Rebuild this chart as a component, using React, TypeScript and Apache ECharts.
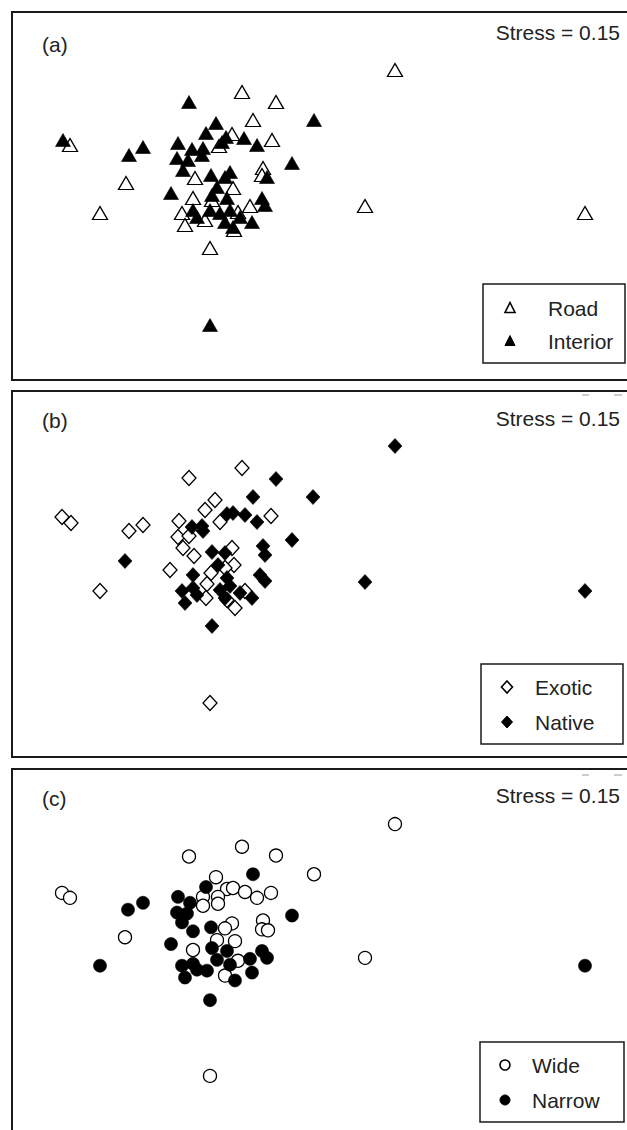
import React, { useEffect, useRef } from "react";
import * as echarts from "echarts";

type P = [number, number];

// NMDS site scores (axis 1, axis 2)
const roadSites: P[] = [
  [-1.40, 0.35], [-1.10, -0.33], [-0.84, -0.03], [0.32, 0.88], [0.66, 0.78], [0.43, 0.60],
  [0.22, 0.46], [0.62, 0.40], [0.09, 0.34], [0.53, 0.12], [0.52, 0.05], [-0.15, 0.02],
  [-0.17, -0.18], [0.23, -0.08], [0.40, -0.26], [0.02, -0.20], [-0.28, -0.33], [-0.25, -0.45],
  [-0.05, -0.40], [0.24, -0.50], [0.28, -0.32], [0.00, -0.68], [1.85, 1.10], [1.55, -0.26],
  [3.75, -0.33],
];
const interiorSites: P[] = [
  [-1.47, 0.40], [-0.81, 0.25], [-0.67, 0.33], [-0.21, 0.78], [1.04, 0.60], [0.06, 0.57],
  [-0.04, 0.47], [0.16, 0.43], [0.34, 0.42], [0.47, 0.35], [-0.32, 0.37], [-0.18, 0.31],
  [-0.07, 0.32], [0.12, 0.38], [-0.33, 0.22], [-0.22, 0.20], [-0.27, 0.10], [-0.08, 0.25],
  [0.82, 0.17], [0.57, 0.03], [0.01, 0.05], [0.20, 0.08], [0.15, 0.03], [-0.39, -0.13],
  [0.07, -0.07], [0.52, -0.18], [0.55, -0.25], [0.02, -0.15], [0.17, -0.18], [0.20, -0.30],
  [-0.17, -0.30], [-0.13, -0.37], [0.00, -0.30], [0.10, -0.33], [0.15, -0.42], [0.23, -0.47],
  [0.42, -0.42], [0.30, -0.37], [0.00, -1.45],
];
const exoticSites: P[] = [
  [-1.48, 0.41], [-1.39, 0.35], [-1.10, -0.33], [-0.81, 0.27], [-0.67, 0.33], [-0.21, 0.80],
  [0.32, 0.90], [0.05, 0.58], [-0.05, 0.48], [-0.31, 0.37], [0.10, 0.36], [0.61, 0.42],
  [-0.32, 0.21], [-0.21, 0.22], [-0.27, 0.10], [-0.16, 0.02], [0.22, 0.10], [-0.40, -0.12],
  [0.01, -0.15], [0.24, -0.07], [0.15, -0.10], [-0.03, -0.26], [-0.04, -0.40], [0.17, -0.42],
  [0.25, -0.50], [0.35, -0.33], [0.00, -1.45],
];
const nativeSites: P[] = [
  [-0.85, -0.03], [1.85, 1.12], [1.03, 0.61], [0.66, 0.79], [0.43, 0.61], [0.17, 0.44],
  [0.23, 0.45], [0.35, 0.43], [0.47, 0.36], [-0.18, 0.31], [-0.08, 0.32], [-0.07, 0.27],
  [0.82, 0.18], [0.02, 0.06], [0.15, 0.05], [0.53, 0.12], [0.55, 0.03], [0.08, -0.07],
  [-0.17, -0.17], [0.50, -0.17], [0.55, -0.23], [0.17, -0.20], [0.20, -0.28], [-0.28, -0.33],
  [-0.17, -0.30], [-0.25, -0.45], [-0.13, -0.37], [0.10, -0.32], [0.15, -0.40], [0.42, -0.40],
  [0.30, -0.35], [0.02, -0.68], [1.55, -0.24], [3.75, -0.33],
];
const wideSites: P[] = [
  [-1.48, 0.41], [-1.40, 0.36], [-0.85, -0.04], [1.85, 1.11], [1.55, -0.25], [1.04, 0.60],
  [0.00, -1.45], [-0.21, 0.78], [0.32, 0.88], [0.66, 0.79], [0.06, 0.57], [0.17, 0.45],
  [0.23, 0.46], [0.35, 0.42], [0.47, 0.36], [0.61, 0.41], [-0.07, 0.37], [0.08, 0.37],
  [0.08, 0.30], [-0.07, 0.28], [0.22, 0.10], [0.15, 0.05], [0.53, 0.13], [0.52, 0.04],
  [0.58, 0.03], [-0.17, -0.17], [0.07, -0.07], [0.25, -0.08], [0.28, -0.28], [0.15, -0.43],
];
const narrowSites: P[] = [
  [-0.82, 0.24], [-0.67, 0.31], [-1.10, -0.33], [3.75, -0.33], [0.43, 0.60], [-0.04, 0.47],
  [-0.32, 0.37], [-0.20, 0.31], [-0.33, 0.21], [-0.23, 0.20], [-0.28, 0.11], [0.82, 0.18],
  [0.01, 0.06], [-0.17, 0.02], [-0.39, -0.11], [0.02, -0.15], [0.17, -0.18], [0.52, -0.18],
  [0.57, -0.25], [0.40, -0.26], [-0.28, -0.33], [-0.17, -0.31], [-0.25, -0.45], [-0.13, -0.37],
  [-0.03, -0.38], [0.07, -0.27], [0.20, -0.32], [0.42, -0.40], [0.25, -0.48], [0.00, -0.68],
];

const panelLabels = ["(a)", "(b)", "(c)"];
const stressLabel = "Stress = 0.15";
const legendNames = [
  ["Road", "Interior"],
  ["Exotic", "Native"],
  ["Wide", "Narrow"],
];

const X_MIN = -1.98;
const X_MAX = 4.17;
const Y_MIN = -2.0;
const Y_MAX = 1.68;

const FONT = "'Liberation Sans', Arial, sans-serif";
const TXT = "#222";

export default function App() {
  const ref = useRef<HTMLDivElement>(null);

  useEffect(() => {
    if (!ref.current) return;
    const chart = echarts.init(ref.current, null, { renderer: "svg" });

    const gridTops = [12, 390, 768];
    const grids = gridTops.map((t) => ({ left: 12, top: t, width: 615, height: 368, show: false }));
    const xAxes = gridTops.map((_, i) => ({
      type: "value", gridIndex: i, min: X_MIN, max: X_MAX, show: false,
      splitLine: { show: false },
    }));
    const yAxes = gridTops.map((_, i) => ({
      type: "value", gridIndex: i, min: Y_MIN, max: Y_MAX, show: false,
      splitLine: { show: false },
    }));

    const openStyle = { color: "#ffffff", borderColor: "#000000", borderWidth: 1.3, opacity: 1 };
    const fillStyle = { color: "#000000", borderColor: "#000000", borderWidth: 0.6, opacity: 1 };

    const mk = (name: string, data: P[], idx: number, symbol: string, size: any, filled: boolean) => ({
      type: "scatter",
      name,
      data,
      xAxisIndex: idx,
      yAxisIndex: idx,
      symbol,
      symbolSize: size,
      itemStyle: filled ? fillStyle : openStyle,
      silent: true,
      z: filled ? 3 : 2,
    });

    const series = [
      mk(legendNames[0][0], roadSites, 0, "triangle", [15, 13], false),
      mk(legendNames[0][1], interiorSites, 0, "triangle", [15, 13], true),
      mk(legendNames[1][0], exoticSites, 1, "diamond", [14, 15], false),
      mk(legendNames[1][1], nativeSites, 1, "diamond", [14, 15], true),
      mk(legendNames[2][0], wideSites, 2, "circle", 13, false),
      mk(legendNames[2][1], narrowSites, 2, "circle", 13, true),
    ];

    const graphic: any[] = [];
    // panel frames
    const frames = [
      { y: 12, h: 368 },
      { y: 391, h: 366 },
      { y: 769, h: 400 },
    ];
    frames.forEach((f) => {
      graphic.push({
        type: "rect", shape: { x: 12, y: f.y, width: 640, height: f.h },
        style: { fill: "none", stroke: "#1a1a1a", lineWidth: 2 }, silent: true, z: 10,
      });
    });

    const labelY = [44, 420, 798];
    const stressY = [32.5, 418, 795.5];
    labelY.forEach((y, i) => {
      graphic.push({
        type: "text", x: 42, y,
        style: { text: panelLabels[i], font: `21px ${FONT}`, fill: TXT, textAlign: "left", textVerticalAlign: "middle" },
        silent: true, z: 10,
      });
      graphic.push({
        type: "text", x: 620, y: stressY[i],
        style: { text: stressLabel, font: `21px ${FONT}`, fill: TXT, textAlign: "right", textVerticalAlign: "middle" },
        silent: true, z: 10,
      });
    });

    // faint artefacts above the stress text in (b) and (c)
    [395, 775].forEach((y) => {
      graphic.push({ type: "line", shape: { x1: 582, y1: y, x2: 589, y2: y }, style: { stroke: "#bbb", lineWidth: 1.5 }, silent: true });
      graphic.push({ type: "line", shape: { x1: 614, y1: y, x2: 622, y2: y }, style: { stroke: "#bbb", lineWidth: 1.5 }, silent: true });
    });

    // legends
    const legends = [
      { x: 483, y: 284, w: 142, h: 79, rows: [308, 341], sx: 510, tx: 548, shape: "triangle" },
      { x: 481, y: 664, w: 142, h: 80, rows: [687, 722], sx: 507, tx: 535, shape: "diamond" },
      { x: 480, y: 1042, w: 144, h: 80, rows: [1065, 1100], sx: 505, tx: 532, shape: "circle" },
    ];
    legends.forEach((lg, i) => {
      graphic.push({
        type: "rect", shape: { x: lg.x, y: lg.y, width: lg.w, height: lg.h },
        style: { fill: "#fff", stroke: "#1a1a1a", lineWidth: 1.5 }, silent: true, z: 20,
      });
      lg.rows.forEach((ry, j) => {
        const filled = j === 1;
        const st = filled
          ? { fill: "#000", stroke: "#000", lineWidth: 1 }
          : { fill: "#fff", stroke: "#000", lineWidth: 1.6 };
        const cx = lg.sx;
        if (lg.shape === "triangle") {
          graphic.push({ type: "polygon", shape: { points: [[cx, ry - 5.5], [cx + 5, ry + 4.5], [cx - 5, ry + 4.5]] }, style: st, silent: true, z: 21 });
        } else if (lg.shape === "diamond") {
          graphic.push({ type: "polygon", shape: { points: [[cx, ry - 6], [cx + 5.5, ry], [cx, ry + 6], [cx - 5.5, ry]] }, style: st, silent: true, z: 21 });
        } else {
          graphic.push({ type: "circle", shape: { cx, cy: ry, r: 5 }, style: st, silent: true, z: 21 });
        }
        graphic.push({
          type: "text", x: lg.tx, y: ry,
          style: { text: legendNames[i][j], font: `21px ${FONT}`, fill: TXT, textAlign: "left", textVerticalAlign: "middle" },
          silent: true, z: 21,
        });
      });
    });

    chart.setOption({
      animation: false,
      backgroundColor: "#ffffff",
      grid: grids,
      xAxis: xAxes,
      yAxis: yAxes,
      series,
      graphic,
    });

    return () => chart.dispose();
  }, []);

  return (
    <div
      ref={ref}
      style={{ position: "absolute", left: 0, top: 0, width: 627, height: 1130, overflow: "hidden", background: "#fff" }}
    />
  );
}
